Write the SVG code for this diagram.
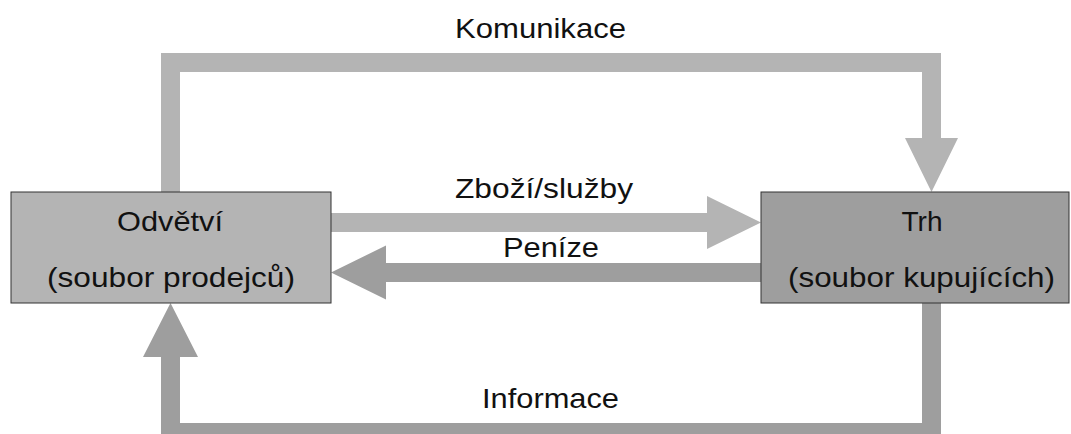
<svg xmlns="http://www.w3.org/2000/svg" width="1071" height="434" viewBox="0 0 1071 434">
<style>
.light{fill:#b4b4b4}
.dark{fill:#9e9e9e}
.box{stroke:#333;stroke-width:1}
text{font-family:"Liberation Sans",Arial,sans-serif;font-size:28px;fill:#111;text-anchor:middle}
</style>
<rect width="1071" height="434" fill="#fff"/>
<g id="connectors">
<path id="komunikace" class="light" d="M161,192 V53 H941 V138 H958 L931.5,192 L905,138 H922 V72 H180 V192 Z"/>
<path id="zbozi" class="light" d="M331,213 H707 V196 L761,222.5 L707,249 V232 H331 Z"/>
<path id="penize" class="dark" d="M761,263 H386 V245.5 L331,272.5 L386,299.5 V282 H761 Z"/>
<path id="informace" class="dark" d="M922,303 V423 H180 V357 H198 L170.5,303 L143,357 H161 V442 H941 V303 Z"/>
<text x="540.5" y="38" textLength="171" lengthAdjust="spacingAndGlyphs">Komunikace</text>
<text x="544" y="198" textLength="178" lengthAdjust="spacingAndGlyphs">Zboží/služby</text>
<text x="551" y="256.5" textLength="96" lengthAdjust="spacingAndGlyphs">Peníze</text>
<text x="550.5" y="408" textLength="137" lengthAdjust="spacingAndGlyphs">Informace</text>
</g>
<g id="odvetvi">
<rect class="box light" x="11" y="192" width="320" height="111"/>
<text x="170" y="231" textLength="106" lengthAdjust="spacingAndGlyphs">Odvětví</text>
<text x="171" y="287" textLength="248" lengthAdjust="spacingAndGlyphs">(soubor prodejců)</text>
</g>
<g id="trh">
<rect class="box dark" x="761" y="192" width="308" height="111"/>
<text x="922" y="231" textLength="41" lengthAdjust="spacingAndGlyphs">Trh</text>
<text x="921.5" y="287" textLength="267" lengthAdjust="spacingAndGlyphs">(soubor kupujících)</text>
</g>
</svg>
